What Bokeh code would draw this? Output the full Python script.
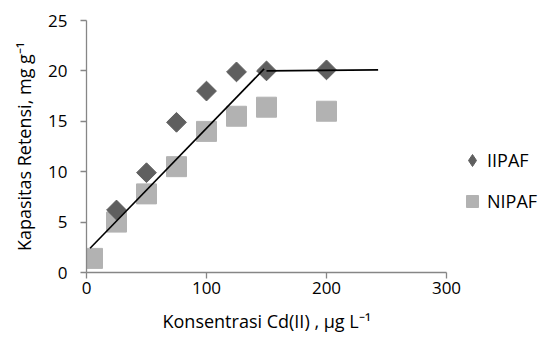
import math
from bokeh.plotting import figure
from bokeh.models import Legend, LegendItem, Range1d, FixedTicker, Title
from bokeh.embed import file_html
from bokeh.resources import INLINE

# Data
iipaf_x = [25, 50, 75, 100, 125, 150, 200]
iipaf_y = [6.2, 9.9, 14.9, 18.0, 19.9, 20.0, 20.1]
nipaf_x = [5, 25, 50, 75, 100, 125, 150, 200]
nipaf_y = [1.4, 5.0, 7.8, 10.5, 14.0, 15.5, 16.4, 16.0]
fit1_x = [3, 148]
fit1_y = [2.4, 20.2]
fit2_x = [150, 243]
fit2_y = [20.0, 20.1]
x_ticks = [0, 100, 200, 300]
y_ticks = [0, 5, 10, 15, 20, 25]
x_title = "Konsentrasi Cd(II) , µg L⁻¹"
y_title = "Kapasitas Retensi, mg g⁻¹"

FONT = "Open Sans"
C_II = "#5f5f5f"
C_NI = "#b2b2b2"

W, H = 541, 344
LEFT, TOP, BOTTOM = 86, 20, 72
frame_w = W - LEFT
x_max = frame_w / 1.2  # 1.2 px per unit so that 300 sits where the axis ends

p = figure(width=W, height=H, output_backend="svg", toolbar_location=None,
           x_range=Range1d(0, x_max), y_range=Range1d(0, 25),
           min_border_left=LEFT, min_border_right=0, min_border_top=TOP,
           min_border_bottom=BOTTOM)
p.outline_line_color = None
p.grid.visible = False
p.background_fill_color = "white"
p.border_fill_color = "white"

sq = p.scatter(nipaf_x, nipaf_y, marker="square", size=20, fill_color=C_NI,
               line_color=C_NI)
di = p.scatter(iipaf_x, iipaf_y, marker="square", size=14, angle=math.pi / 4,
               fill_color=C_II, line_color=C_II)
# legend-only proxy (zero size in the plot) so the legend shows a diamond
di_leg = p.scatter(iipaf_x[:1], iipaf_y[:1], marker="diamond", size=0,
                   fill_color=C_II, line_color=C_II)
p.line(fit1_x, fit1_y, line_color="black", line_width=1.6)
p.line(fit2_x, fit2_y, line_color="black", line_width=1.6)

for ax in (p.xaxis[0], p.yaxis[0]):
    ax.axis_line_color = "#868686"
    ax.axis_line_width = 1.3
    ax.major_tick_line_color = "#868686"
    ax.major_tick_line_width = 1.3
    ax.minor_tick_line_color = None
    ax.major_tick_in = 0
    ax.major_tick_out = 6
    ax.major_label_text_font = FONT
    ax.major_label_text_font_size = "17px"
    ax.major_label_text_color = "black"
    ax.axis_label_text_font = FONT
    ax.axis_label_text_font_size = "18px"
    ax.axis_label_text_font_style = "normal"
    ax.axis_label_text_color = "black"

p.xaxis.bounds = (0, 300)
p.xaxis.ticker = FixedTicker(ticks=x_ticks)
p.yaxis.ticker = FixedTicker(ticks=y_ticks)
p.xaxis.major_label_standoff = 3
p.yaxis.major_label_standoff = 13
p.yaxis.axis_label = y_title
p.yaxis.axis_label_standoff = 9

xt = Title(text=x_title, align="left", offset=76, standoff=21,
           text_font=FONT, text_font_size="18px", text_font_style="normal",
           text_color="black")
p.add_layout(xt, "below")

legend = Legend(items=[LegendItem(label="IIPAF", renderers=[di_leg]),
                       LegendItem(label="NIPAF", renderers=[sq])],
                location=(371, 56), border_line_color=None,
                background_fill_alpha=0, padding=0, margin=0, spacing=11,
                glyph_width=30, glyph_height=30, label_standoff=0,
                label_text_font=FONT, label_text_font_size="18px",
                label_text_color="black")
p.add_layout(legend)

open("out.html", "w").write(file_html(p, INLINE))
